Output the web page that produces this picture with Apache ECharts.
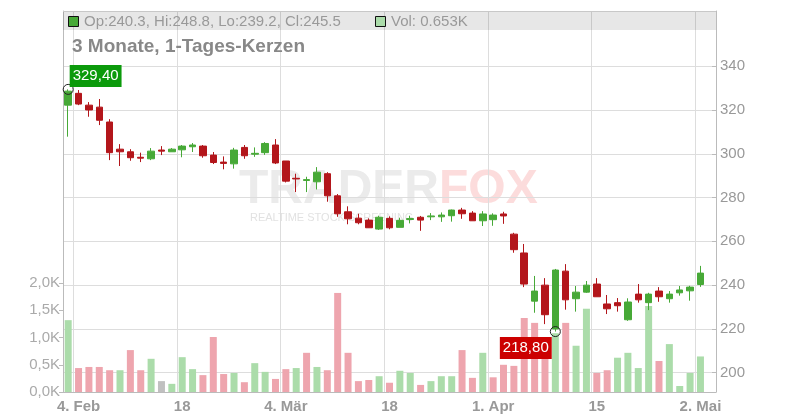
<!DOCTYPE html>
<html><head><meta charset="utf-8">
<script src="https://cdn.jsdelivr.net/npm/echarts@6/dist/echarts.min.js"></script>
<style>html,body{margin:0;padding:0;background:#fff}#c{width:800px;height:420px}</style>
</head><body><div id="c"></div>
<script>
// trading days (Xetra calendar)
const dates = [
 '2025-02-03','2025-02-04','2025-02-05','2025-02-06','2025-02-07','2025-02-10','2025-02-11','2025-02-12','2025-02-13','2025-02-14',
 '2025-02-17','2025-02-18','2025-02-19','2025-02-20','2025-02-21','2025-02-24','2025-02-25','2025-02-26','2025-02-27','2025-02-28',
 '2025-03-03','2025-03-04','2025-03-05','2025-03-06','2025-03-07','2025-03-10','2025-03-11','2025-03-12','2025-03-13','2025-03-14',
 '2025-03-17','2025-03-18','2025-03-19','2025-03-20','2025-03-21','2025-03-24','2025-03-25','2025-03-26','2025-03-27','2025-03-28',
 '2025-03-31','2025-04-01','2025-04-02','2025-04-03','2025-04-04','2025-04-07','2025-04-08','2025-04-09','2025-04-10','2025-04-11',
 '2025-04-14','2025-04-15','2025-04-16','2025-04-17','2025-04-22','2025-04-23','2025-04-24','2025-04-25','2025-04-28','2025-04-29',
 '2025-04-30','2025-05-02'
];
const opens = [
 322.2,327.6,322.2,321.3,314.5,302.1,300.9,298.4,297.7,301.7,
 300.9,301.8,303.2,303.5,299.4,296.2,295.4,302.9,299.8,300.5,
 304.0,296.7,288.8,287.8,287.2,290.9,280.8,273.5,270.6,269.7,
 265.6,270.5,266.4,270.0,271.0,271.2,271.2,271.7,274.3,272.9,
 269.4,269.9,272.5,263.3,254.7,232.7,240.0,220.0,246.4,233.8,
 236.8,240.5,231.4,232.0,224.2,235.9,232.0,237.3,233.8,236.5,
 237.4,240.3
];
const closes = [
 328.6,322.7,320.0,315.3,300.5,300.9,298.2,298.0,301.2,301.2,
 302.1,303.5,304.0,299.1,296.0,295.6,301.7,299.1,300.2,304.7,
 295.8,287.5,288.5,288.2,291.6,280.8,272.6,270.3,268.5,266.2,
 271.0,266.2,269.6,270.4,269.7,271.6,272.0,274.3,272.6,269.4,
 272.5,272.0,271.6,256.2,240.5,237.3,226.5,246.9,233.3,236.8,
 240.0,234.7,229.2,230.6,232.3,233.3,235.9,234.7,235.9,237.8,
 239.1,245.5
];
const lows = [
 307.8,322.2,316.9,313.1,297.1,294.4,296.8,296.2,297.1,299.4,
 300.9,298.4,300.8,298.2,295.3,292.9,293.2,297.7,298.6,299.5,
 295.3,286.9,282.5,282.5,283.7,278.1,271.2,267.8,267.8,266.1,
 265.2,265.5,266.4,268.2,264.8,269.7,268.9,269.0,270.3,269.4,
 267.0,267.1,268.0,254.8,239.1,227.4,222.2,218.8,228.8,227.9,
 236.5,234.7,226.8,227.9,223.7,232.0,228.6,232.4,232.0,235.2,
 232.9,239.2
];
const highs = [
 329.4,329.1,323.6,325.0,315.8,304.4,302.1,300.5,302.6,303.5,
 302.6,304.0,304.9,304.0,300.8,298.8,302.7,304.0,302.9,305.3,
 306.7,296.7,290.9,289.5,293.9,291.6,281.6,276.0,272.6,270.5,
 271.7,271.4,270.8,271.7,271.6,272.9,273.2,274.5,275.3,273.8,
 273.8,272.8,273.5,263.9,258.8,244.2,243.2,247.4,249.6,239.6,
 241.9,243.2,235.5,234.1,234.0,240.5,236.5,239.1,237.3,239.6,
 239.7,248.8
];
// volume in thousands
const volumes = [
 1.32,0.44,0.46,0.46,0.40,0.40,0.77,0.40,0.61,0.20,
 0.15,0.64,0.42,0.31,1.01,0.33,0.35,0.18,0.53,0.37,
 0.24,0.42,0.44,0.72,0.46,0.40,1.82,0.72,0.20,0.22,
 0.29,0.17,0.39,0.35,0.13,0.20,0.29,0.29,0.77,0.26,
 0.72,0.27,0.50,0.48,1.36,1.27,0.61,1.08,1.27,0.85,
 1.53,0.35,0.40,0.63,0.72,0.44,1.58,0.57,0.88,0.11,
 0.35,0.653
];
const tickDates = ['2025-02-04','2025-02-18','2025-03-04','2025-03-18','2025-04-01','2025-04-15','2025-05-02'];
const tickLabels = ['4. Feb','18','4. Mär','18','1. Apr','15','2. Mai'];
const priceTicks = [200,220,240,260,280,300,320,340];
const volumeTicks = [0,0.5,1,1.5,2];
const titleText = '3 Monate, 1-Tages-Kerzen';

const categories = dates.concat(['2025-05-05']); // one empty slot at the right edge
const n = dates.length;
const tickIdx = tickDates.map(d => categories.indexOf(d));
const isTick = i => tickIdx.indexOf(i) >= 0;

const UP = '#47a937', DOWN = '#b3161b';
const VUP = '#abdcaa', VDOWN = '#eea5ae', VFLAT = '#c0c0c0';
const FONT = '"Liberation Sans", Arial, sans-serif';

const candleData = categories.map((d, i) => i < n ? [opens[i], closes[i], lows[i], highs[i]] : '-');
const volData = categories.map((d, i) => {
  if (i >= n) return '-';
  let c = VUP;
  if (i > 0) c = closes[i] > closes[i-1] ? VUP : (closes[i] < closes[i-1] ? VDOWN : VFLAT);
  return { value: volumes[i], itemStyle: { color: c } };
});
const fmtDe = v => v.toFixed(2).replace('.', ',');

const chart = echarts.init(document.getElementById('c'), null, { renderer: 'canvas' });
chart.setOption({
  animation: false,
  textStyle: { fontFamily: FONT },
  grid: { left: 63, right: 84, top: 11, bottom: 28 },
  xAxis: {
    type: 'category', data: categories, boundaryGap: true,
    axisLine: { lineStyle: { color: '#bbb' } },
    axisTick: { interval: (i) => isTick(i), alignWithLabel: true, length: 4, lineStyle: { color: '#ccc' } },
    axisLabel: { interval: (i) => isTick(i), formatter: (v, i) => { const k = tickIdx.indexOf(i); return k >= 0 ? tickLabels[k] : ''; },
      color: '#999', fontWeight: 'bold', fontSize: 15, margin: 7, fontFamily: FONT },
    splitLine: { show: true, interval: (i) => isTick(i), lineStyle: { color: '#ddd' } }
  },
  yAxis: [
    { type: 'value', position: 'right', min: 191.2, max: 365.2, splitNumber: 9, scale: true,
      axisLine: { show: true, lineStyle: { color: '#bbb' } },
      axisTick: { show: true, inside: true, length: 4, customValues: priceTicks, lineStyle: { color: '#bbb' } },
      axisLabel: { customValues: priceTicks, color: '#999', fontSize: 15, margin: 4, fontFamily: FONT, formatter: v => String(v) },
      splitLine: { show: true, lineStyle: { color: '#ddd' } } },
    { type: 'value', position: 'left', min: 0, max: 7, interval: 0.5,
      axisLine: { show: true, lineStyle: { color: '#bbb' } },
      axisTick: { show: true, length: 4, customValues: volumeTicks, lineStyle: { color: '#bbb' } },
      axisLabel: { customValues: volumeTicks, color: '#aaa', fontSize: 15, margin: 3, fontFamily: FONT,
        formatter: v => v.toFixed(1).replace('.', ',') + 'K' },
      splitLine: { show: false } }
  ],
  series: [
    { type: 'bar', name: 'Vol', yAxisIndex: 1, data: volData, barWidth: 7, z: 2 },
    { type: 'candlestick', name: 'Kurs', yAxisIndex: 0, data: candleData, barWidth: 7, z: 3,
      itemStyle: { color: UP, color0: DOWN, borderColor: UP, borderColor0: DOWN, borderWidth: 1 },
      markPoint: {
        symbol: 'circle', symbolSize: 10,
        itemStyle: { color: 'rgba(0,0,0,0)', borderColor: '#222', borderWidth: 1 },
        label: { show: true, color: '#fff', fontSize: 15, padding: [3, 3], lineHeight: 16, fontFamily: FONT,
          formatter: p => fmtDe(p.value) },
        data: [
          { type: 'max', valueDim: 'highest', label: { position: [7, -19], backgroundColor: '#0b9a0b' } },
          { type: 'min', valueDim: 'lowest', label: { position: [-50, 11], backgroundColor: '#cc0000' } }
        ]
      } }
  ],
  graphic: [
    { type: 'text', x: 239, y: 190, z: 0, silent: true,
      style: { text: 'TRADER', font: 'bold 48px ' + FONT, fill: '#ebebeb', textVerticalAlign: 'middle' } },
    { type: 'text', x: 439, y: 190, z: 0, silent: true,
      style: { text: 'FOX', font: 'bold 48px ' + FONT, fill: '#fcdcdc', textVerticalAlign: 'middle' } },
    { type: 'text', x: 250, y: 218, z: 0, silent: true,
      style: { text: 'REALTIME STOCK SCREENING', font: '11px ' + FONT, fill: '#e2e2e2', textVerticalAlign: 'middle' } },
    { type: 'rect', z: 50, silent: true, shape: { x: 63, y: 11, width: 653, height: 19 },
      style: { fill: 'rgba(0,0,0,0.095)' } },
    { type: 'line', z: 51, silent: true, shape: { x1: 63, y1: 11.5, x2: 716, y2: 11.5 }, style: { stroke: '#c8c8c8', lineWidth: 1 } },
    { type: 'rect', z: 52, silent: true, shape: { x: 68.5, y: 16.5, width: 10, height: 10 },
      style: { fill: UP, stroke: '#111', lineWidth: 1 } },
    { type: 'text', z: 52, silent: true, x: 84, y: 21.5,
      style: { text: 'Op:' + opens[n-1].toFixed(1) + ', Hi:' + highs[n-1].toFixed(1) + ', Lo:' + lows[n-1].toFixed(1) + ', Cl:' + closes[n-1].toFixed(1),
        font: '15px ' + FONT, fill: '#999', textVerticalAlign: 'middle' } },
    { type: 'rect', z: 52, silent: true, shape: { x: 375.5, y: 16.5, width: 10, height: 10 },
      style: { fill: VUP, stroke: '#111', lineWidth: 1 } },
    { type: 'text', z: 52, silent: true, x: 391, y: 21.5,
      style: { text: 'Vol: ' + volumes[n-1].toFixed(3) + 'K', font: '15px ' + FONT, fill: '#999', textVerticalAlign: 'middle' } },
    { type: 'text', z: 52, silent: true, x: 72, y: 47,
      style: { text: titleText, font: 'bold 19px ' + FONT, fill: '#888', textVerticalAlign: 'middle' } }
  ]
});
</script>
</body></html>
